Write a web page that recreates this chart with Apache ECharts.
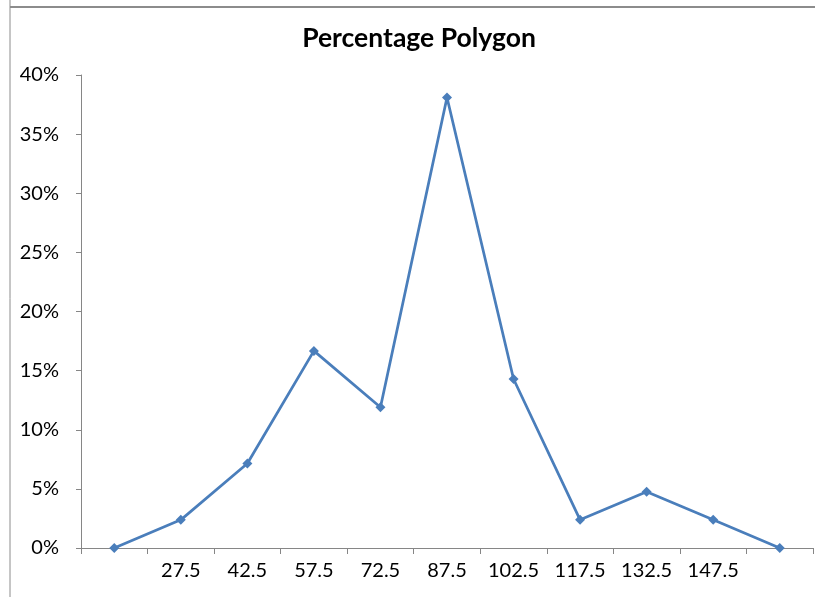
<!DOCTYPE html>
<html>
<head>
<meta charset="utf-8">
<script src="https://cdn.jsdelivr.net/npm/echarts@6/dist/echarts.min.js"></script>
<style>
  html, body { margin: 0; padding: 0; background: #fff; }
  #chart { width: 815px; height: 597px; }
</style>
</head>
<body>
<div id="chart"></div>
<script>
// midpoints of the classes (blank at both ends to close the polygon)
var midpoints = ['', '27.5', '42.5', '57.5', '72.5', '87.5', '102.5', '117.5', '132.5', '147.5', ''];
// relative frequency of each class
var percents = [0, 0.0238, 0.0714, 0.1667, 0.119, 0.381, 0.1429, 0.0238, 0.0476, 0.0238, 0];

var chart = echarts.init(document.getElementById('chart'));
var font = 'Lato, "Open Sans", sans-serif';

var option = {
    animation: false,
    title: {
        text: 'Percentage Polygon',
        left: 414,
        textAlign: 'center',
        top: 20,
        textStyle: { fontFamily: font, fontSize: 26.5, fontWeight: 'bold', color: '#000' }
    },
    grid: { left: 81, right: 2, top: 75, bottom: 49 },
    xAxis: {
        type: 'category',
        data: midpoints,
        boundaryGap: true,
        axisLine: { lineStyle: { color: '#868686', width: 1 } },
        axisTick: { show: true, length: 6, lineStyle: { color: '#868686' } },
        axisLabel: { interval: 0, color: '#000', fontFamily: font, fontSize: 20, margin: 13 },
        splitLine: { show: false }
    },
    yAxis: {
        type: 'value',
        min: 0,
        max: 0.4,
        interval: 0.05,
        axisLine: { show: true, lineStyle: { color: '#868686', width: 1 } },
        axisTick: { show: true, length: 5, lineStyle: { color: '#868686' } },
        axisLabel: {
            color: '#000', fontFamily: font, fontSize: 20, margin: 22,
            formatter: function (v) { return Math.round(v * 100) + '%'; }
        },
        splitLine: { show: false }
    },
    graphic: [
        { type: 'line', shape: { x1: 10, y1: 0, x2: 10, y2: 597 }, style: { stroke: '#8c8c8c', lineWidth: 1 } },
        { type: 'line', shape: { x1: 10, y1: 7, x2: 815, y2: 7 }, style: { stroke: '#8c8c8c', lineWidth: 2 } }
    ],
    series: [{
        type: 'line',
        data: percents,
        symbol: 'diamond',
        symbolSize: 10,
        itemStyle: { color: '#4a7ebb' },
        lineStyle: { color: '#4a7ebb', width: 2.75 }
    }]
};
chart.setOption(option);
</script>
</body>
</html>
